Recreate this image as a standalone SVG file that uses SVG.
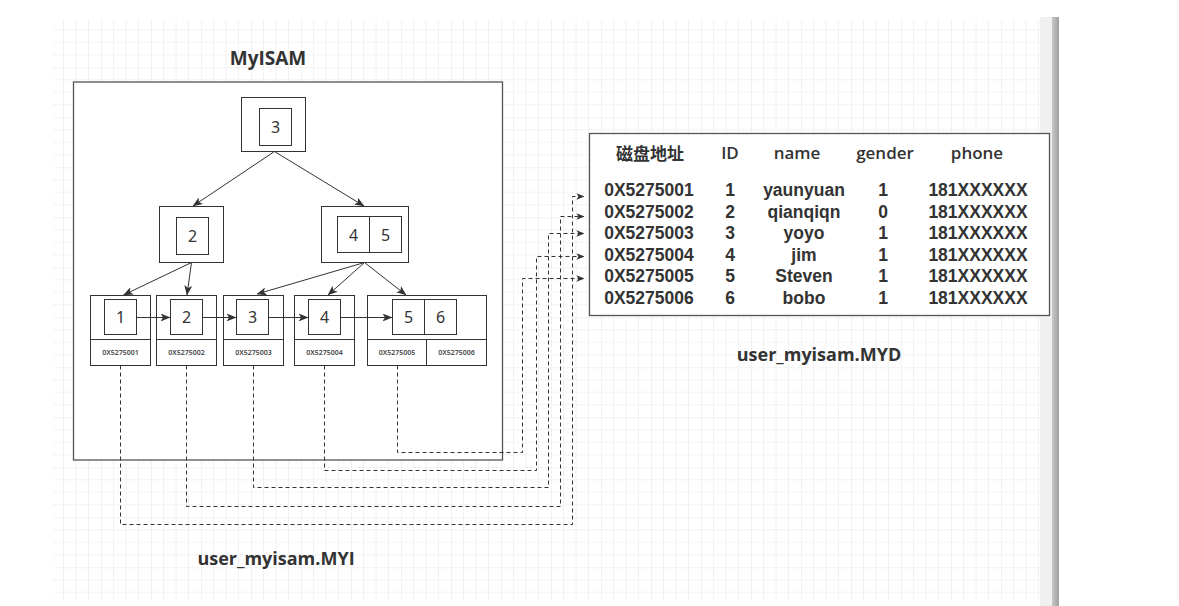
<svg xmlns="http://www.w3.org/2000/svg" width="1179" height="606" viewBox="0 0 1179 606">
<defs>
<pattern id="grid" patternUnits="userSpaceOnUse" x="1" y="17.3" width="50" height="50">
<path d="M12.5 0V50M25 0V50M37.5 0V50M0 12.5H50M0 25H50M0 37.5H50" stroke="#f2f2f2" stroke-width="1" fill="none"/>
<path d="M0 0V50M0 0H50" stroke="#e6e6e6" stroke-width="1" fill="none"/>
</pattern>
<marker id="arr" viewBox="0 0 10 8" refX="9.5" refY="4" markerWidth="10" markerHeight="8" markerUnits="userSpaceOnUse" orient="auto">
<path d="M0 0L10 4L0 8L2.5 4Z" fill="#333"/>
</marker>
<marker id="arrs" viewBox="0 0 10 8" refX="9.5" refY="4" markerWidth="8" markerHeight="6.4" markerUnits="userSpaceOnUse" orient="auto">
<path d="M0 0L10 4L0 8L2.5 4Z" fill="#333"/>
</marker>
<linearGradient id="bar" x1="0" x2="1" y1="0" y2="0">
<stop offset="0" stop-color="#c8c8c8"/><stop offset="1" stop-color="#a0a0a0"/>
</linearGradient>
</defs>
<style>
.box{fill:#fff;stroke:#333;stroke-width:1}
.obox{fill:#fff;stroke:#555;stroke-width:1.3}
.num{font-family:"Noto Sans","DejaVu Sans",sans-serif;font-size:16px;fill:#333;text-anchor:middle;dominant-baseline:central}
.addr{font-family:"Noto Sans","DejaVu Sans",sans-serif;font-size:7px;font-weight:600;fill:#444;text-anchor:middle;dominant-baseline:central}
.t{font-family:"Liberation Sans",Arial,sans-serif;font-weight:bold;font-size:17.5px;fill:#333;text-anchor:middle;dominant-baseline:central}
.h{font-family:"Open Sans","Noto Sans CJK SC",sans-serif;font-weight:600;font-size:17px;fill:#333;text-anchor:middle;dominant-baseline:central}
.title{font-family:"Open Sans",sans-serif;font-weight:bold;font-size:18px;fill:#333;text-anchor:middle;dominant-baseline:central}
.ln{stroke:#333;stroke-width:1;fill:none}
.dl{stroke:#333;stroke-width:1;fill:none;stroke-dasharray:4 3}
</style>
<rect x="0" y="0" width="1179" height="606" fill="#fff"/>
<rect x="53" y="20" width="987" height="580" fill="url(#grid)"/>
<rect x="1040" y="17" width="12" height="589" fill="#f0f0f0"/>
<rect x="1052" y="17" width="7" height="589" fill="url(#bar)"/>

<text class="title" x="268" y="58" style="font-size:19px">MyISAM</text>
<rect class="obox" x="73.5" y="82" width="429" height="378"/>

<g id="root">
<rect class="box" x="241.5" y="97.5" width="64" height="54"/>
<rect class="box" x="259.5" y="108.5" width="32" height="37"/>
<text class="num" x="275.5" y="127">3</text>
</g>
<g id="n2">
<rect class="box" x="159.5" y="206.5" width="64" height="56"/>
<rect class="box" x="176.5" y="217.5" width="32" height="37"/>
<text class="num" x="192.5" y="236">2</text>
</g>
<g id="n45">
<rect class="box" x="321.5" y="206.5" width="87" height="56"/>
<rect class="box" x="337.5" y="216.5" width="32" height="36"/>
<rect class="box" x="369.5" y="216.5" width="32" height="36"/>
<text class="num" x="353.5" y="235">4</text>
<text class="num" x="385.5" y="235">5</text>
</g>
<g id="leaf1">
<rect class="box" x="90.5" y="295.5" width="60" height="70"/>
<line class="ln" x1="90.5" y1="339.5" x2="150.5" y2="339.5"/>
<rect class="box" x="104.5" y="299.5" width="32" height="35"/>
<text class="num" x="120.5" y="317">1</text>
<text class="addr" x="120.5" y="352">0X5275001</text>
</g>
<g id="leaf2">
<rect class="box" x="156.5" y="295.5" width="60" height="70"/>
<line class="ln" x1="156.5" y1="339.5" x2="216.5" y2="339.5"/>
<rect class="box" x="170.5" y="299.5" width="32" height="35"/>
<text class="num" x="186.5" y="317">2</text>
<text class="addr" x="186.5" y="352">0X5275002</text>
</g>
<g id="leaf3">
<rect class="box" x="223.5" y="295.5" width="60" height="70"/>
<line class="ln" x1="223.5" y1="339.5" x2="283.5" y2="339.5"/>
<rect class="box" x="236.5" y="299.5" width="32" height="35"/>
<text class="num" x="252.5" y="317">3</text>
<text class="addr" x="253.5" y="352">0X5275003</text>
</g>
<g id="leaf4">
<rect class="box" x="294.5" y="295.5" width="60" height="70"/>
<line class="ln" x1="294.5" y1="339.5" x2="354.5" y2="339.5"/>
<rect class="box" x="308.5" y="299.5" width="32" height="35"/>
<text class="num" x="324.5" y="317">4</text>
<text class="addr" x="324.5" y="352">0X5275004</text>
</g>
<g id="leaf56">
<rect class="box" x="367.5" y="295.5" width="119" height="70"/>
<line class="ln" x1="367.5" y1="339.5" x2="486.5" y2="339.5"/>
<line class="ln" x1="426.5" y1="339.5" x2="426.5" y2="365.5"/>
<rect class="box" x="392.5" y="299.5" width="32" height="35"/>
<rect class="box" x="424.5" y="299.5" width="32" height="35"/>
<text class="num" x="408.5" y="317">5</text>
<text class="num" x="440.5" y="317">6</text>
<text class="addr" x="397" y="352">0X5275005</text>
<text class="addr" x="456.5" y="352">0X5275006</text>
</g>

<g id="table">
<rect class="obox" x="589.5" y="133.5" width="460" height="182"/>
<text class="h" x="650" y="152" style="font-family:'Noto Sans CJK SC',sans-serif">磁盘地址</text>
<text class="h" x="730" y="152">ID</text>
<text class="h" x="797" y="152">name</text>
<text class="h" x="885" y="152">gender</text>
<text class="h" x="977" y="152">phone</text>
<g>
<text class="t" x="649" y="190">0X5275001</text><text class="t" x="730" y="190">1</text><text class="t" x="804" y="190">yaunyuan</text><text class="t" x="883" y="190">1</text><text class="t" x="978" y="190">181XXXXXX</text>
<text class="t" x="649" y="211.5">0X5275002</text><text class="t" x="730" y="211.5">2</text><text class="t" x="804" y="211.5">qianqiqn</text><text class="t" x="883" y="211.5">0</text><text class="t" x="978" y="211.5">181XXXXXX</text>
<text class="t" x="649" y="233">0X5275003</text><text class="t" x="730" y="233">3</text><text class="t" x="804" y="233">yoyo</text><text class="t" x="883" y="233">1</text><text class="t" x="978" y="233">181XXXXXX</text>
<text class="t" x="649" y="254.5">0X5275004</text><text class="t" x="730" y="254.5">4</text><text class="t" x="804" y="254.5">jim</text><text class="t" x="883" y="254.5">1</text><text class="t" x="978" y="254.5">181XXXXXX</text>
<text class="t" x="649" y="276">0X5275005</text><text class="t" x="730" y="276">5</text><text class="t" x="804" y="276">Steven</text><text class="t" x="883" y="276">1</text><text class="t" x="978" y="276">181XXXXXX</text>
<text class="t" x="649" y="297.5">0X5275006</text><text class="t" x="730" y="297.5">6</text><text class="t" x="804" y="297.5">bobo</text><text class="t" x="883" y="297.5">1</text><text class="t" x="978" y="297.5">181XXXXXX</text>
</g>
</g>
<text class="title" x="819" y="354">user_myisam.MYD</text>
<text class="title" x="276" y="558">user_myisam.MYI</text>

<g id="connectors">
<path class="ln" marker-end="url(#arr)" d="M274.5 151.5L193 206"/>
<path class="ln" marker-end="url(#arr)" d="M274.5 151.5L364 206"/>
<path class="ln" marker-end="url(#arr)" d="M191.5 262.5L123.5 295"/>
<path class="ln" marker-end="url(#arr)" d="M191.5 262.5L187 295"/>
<path class="ln" marker-end="url(#arr)" d="M364.5 262.5L257 294"/>
<path class="ln" marker-end="url(#arr)" d="M364.5 262.5L328 295"/>
<path class="ln" marker-end="url(#arr)" d="M364.5 262.5L406 295"/>
<path class="ln" marker-end="url(#arr)" d="M136.5 317.5H170"/>
<path class="ln" marker-end="url(#arr)" d="M202.5 317.5H236"/>
<path class="ln" marker-end="url(#arr)" d="M268.5 317.5H308"/>
<path class="ln" marker-end="url(#arr)" d="M340.5 317.5H392"/>
<path class="dl" marker-end="url(#arrs)" d="M120.5 365.5V524.5H572.5V196.5H584"/>
<path class="dl" marker-end="url(#arrs)" d="M186.5 365.5V506.5H560.5V216.5H584"/>
<path class="dl" marker-end="url(#arrs)" d="M253.5 365.5V487.5H548.5V233.5H584"/>
<path class="dl" marker-end="url(#arrs)" d="M324.5 365.5V470.5H536.5V256.5H584"/>
<path class="dl" marker-end="url(#arrs)" d="M397.5 365.5V452.5H522.5V278.5H584"/>
</g>
</svg>
